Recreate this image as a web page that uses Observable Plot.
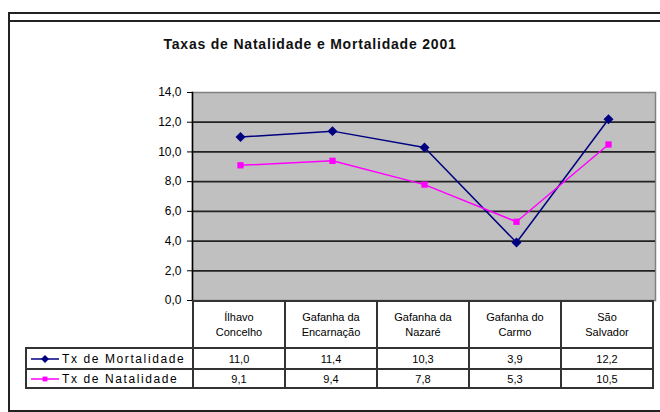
<!DOCTYPE html>
<html><head><meta charset="utf-8">
<script src="https://cdn.jsdelivr.net/npm/d3@7"></script>
<script src="https://cdn.jsdelivr.net/npm/@observablehq/plot@0.6"></script>
<style>
body{margin:0;background:#fff}
#wrap{position:relative;width:660px;height:412px;overflow:hidden;font-family:"Liberation Sans",Arial,sans-serif;color:#000;background:#fff}
#wrap > svg{position:absolute;left:0;top:0}
.frame{position:absolute;left:8px;top:12px;width:680px;height:396px;border:2px solid #222;border-right:none}
.frame2{position:absolute;left:8px;top:20px;width:680px;height:0;border-top:2px solid #222}
.title{position:absolute;top:36px;left:0;width:620px;text-align:center;font-size:14px;font-weight:bold;letter-spacing:0.8px;color:#111}
table{position:absolute;left:25px;top:300px;border-collapse:collapse;table-layout:fixed}
td{border:2px solid #333;padding:0;text-align:center;vertical-align:middle;overflow:hidden;white-space:nowrap}
td.blank{border:none;border-right:2px solid #333}
td.cat{font-size:11px;line-height:15px;height:45px;white-space:normal}
td.val{font-size:11px}
td.leg{text-align:left;font-size:12px;letter-spacing:1.6px}
#wrap td.leg svg{position:static;display:inline-block;vertical-align:middle;margin-right:1px}
</style></head><body><div id="wrap"></div>
<script>
const title = "Taxas de Natalidade e Mortalidade 2001";
const categories = ["Ílhavo Concelho","Gafanha da Encarnação","Gafanha da Nazaré","Gafanha do Carmo","São Salvador"];
const categoryLines = [["Ílhavo","Concelho"],["Gafanha da","Encarnação"],["Gafanha da","Nazaré"],["Gafanha do","Carmo"],["São","Salvador"]];
const seriesNames = ["Tx de Mortalidade","Tx de Natalidade"];
const mortalidade = [11.0,11.4,10.3,3.9,12.2];
const natalidade = [9.1,9.4,7.8,5.3,10.5];
const yTicks = [0,2,4,6,8,10,12,14];

const colors = ["#000080","#ff00ff"];
const symbols = ["diamond2","square2"];
const seriesValues = [mortalidade, natalidade];
const fmt = v => v.toFixed(1).replace(".", ",");

const rows = seriesValues.map((vals, s) => categories.map((c, i) => ({cat: c, v: vals[i], s})));

const wrap = document.getElementById("wrap");

const plot = Plot.plot({
  width: 660, height: 412,
  marginTop: 92, marginBottom: 112, marginLeft: 192, marginRight: 5,
  style: {background: "transparent", fontFamily: "Liberation Sans, Arial, sans-serif", fontSize: "12px", color: "#000"},
  x: {type: "band", domain: categories, padding: 0, axis: null},
  y: {domain: [0, 14], label: null, axis: null},
  marks: [
    Plot.frame({fill: "#c0c0c0", stroke: "#808080", strokeWidth: 1.5}),
    Plot.gridY(yTicks.slice(1, -1), {stroke: "#222", strokeOpacity: 1, strokeWidth: 1.8}),
    Plot.axisY(yTicks, {tickFormat: fmt, tickSize: 5, tickPadding: 6, label: null, fontSize: 12, stroke: "#000"}),
    Plot.frame({anchor: "left", stroke: "#000", strokeWidth: 1.5}),
    ...rows.flatMap((r, s) => [
      Plot.line(r, {x: "cat", y: "v", stroke: colors[s], strokeWidth: 1.5}),
      Plot.dot(r, {x: "cat", y: "v", symbol: symbols[s], fill: colors[s], stroke: "none", r: s === 0 ? 4.5 : 4})
    ])
  ]
});
wrap.appendChild(plot);

const bw = plot.scale("x").bandwidth;

const frame = document.createElement("div"); frame.className = "frame"; wrap.appendChild(frame);
const frame2 = document.createElement("div"); frame2.className = "frame2"; wrap.appendChild(frame2);

const t = document.createElement("div"); t.className = "title"; t.textContent = title; wrap.appendChild(t);

const table = document.createElement("table");
const colg = document.createElement("colgroup");
[167, ...categories.map(() => bw)].forEach(w => { const c = document.createElement("col"); c.style.width = w + "px"; colg.appendChild(c); });
table.appendChild(colg);
table.style.width = (167 + bw * categories.length) + "px";

const hr = document.createElement("tr");
const blank = document.createElement("td"); blank.className = "blank"; hr.appendChild(blank);
categoryLines.forEach(lines => {
  const td = document.createElement("td"); td.className = "cat";
  td.innerHTML = lines.join("<br>");
  hr.appendChild(td);
});
table.appendChild(hr);

seriesNames.forEach((name, s) => {
  const tr = document.createElement("tr");
  tr.style.height = (s === 0 ? 21 : 19) + "px";
  const leg = document.createElement("td"); leg.className = "leg";
  const sw = d3.create("svg").attr("width", 34).attr("height", 10);
  sw.append("line").attr("x1", 4).attr("x2", 32).attr("y1", 5).attr("y2", 5).attr("stroke", colors[s]).attr("stroke-width", 1.5);
  const sym = s === 0 ? d3.symbolDiamond2 : d3.symbolSquare2;
  sw.append("path").attr("d", d3.symbol(sym, s === 0 ? 40 : 30)()).attr("transform", "translate(18,5)").attr("fill", colors[s]);
  leg.appendChild(sw.node());
  leg.appendChild(document.createTextNode(name));
  tr.appendChild(leg);
  seriesValues[s].forEach(v => {
    const td = document.createElement("td"); td.className = "val"; td.textContent = fmt(v); tr.appendChild(td);
  });
  table.appendChild(tr);
});
wrap.appendChild(table);
</script>
</body></html>
